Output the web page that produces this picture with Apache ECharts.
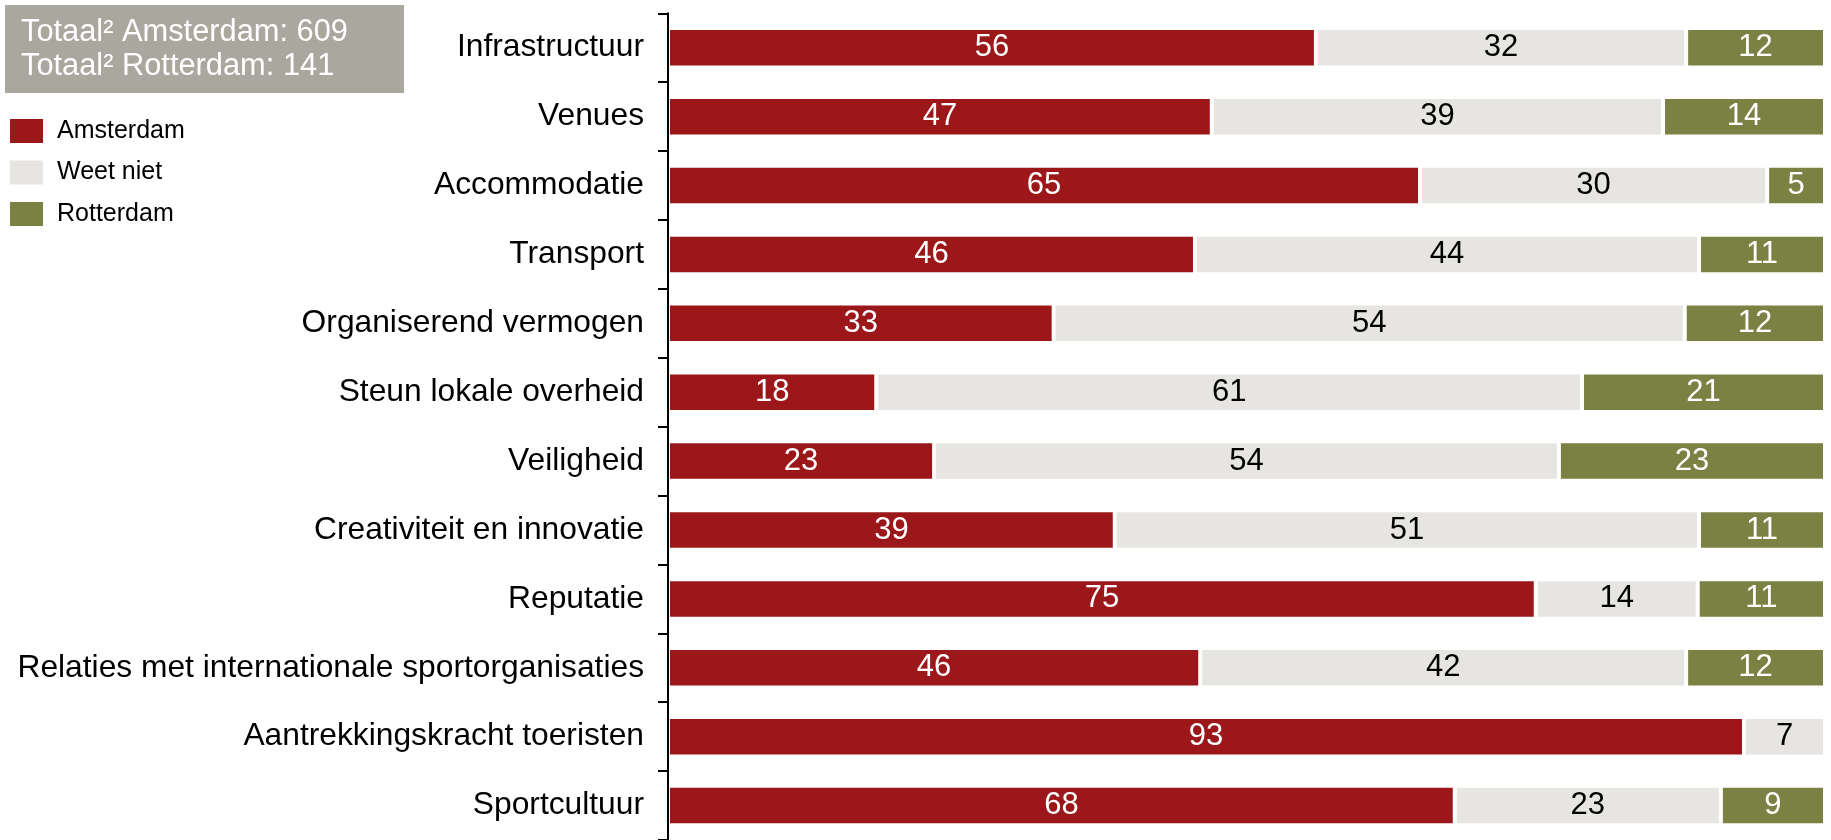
<!DOCTYPE html>
<html>
<head>
<meta charset="utf-8">
<script src="https://cdn.jsdelivr.net/npm/echarts@6/dist/echarts.min.js"></script>
<style>
html,body{margin:0;padding:0;background:#fff;}
#chart{width:1831px;height:840px;}
</style>
</head>
<body>
<div id="chart"></div>
<script>
var categories = ['Infrastructuur','Venues','Accommodatie','Transport','Organiserend vermogen','Steun lokale overheid','Veiligheid','Creativiteit en innovatie','Reputatie','Relaties met internationale sportorganisaties','Aantrekkingskracht toeristen','Sportcultuur'];
var amsterdam = [56,47,65,46,33,18,23,39,75,46,93,68];
var weetNiet  = [32,39,30,44,54,61,54,51,14,42,7,23];
var rotterdam = [12,14,5,11,12,21,23,11,11,12,null,9];
var seriesNames = ['Amsterdam','Weet niet','Rotterdam'];
var totals = ['Totaal\u00B2 Amsterdam: 609','Totaal\u00B2 Rotterdam: 141'];

var FONT = 'Liberation Sans, Arial, sans-serif';
var raw = [amsterdam, weetNiet, rotterdam];
var colors = ['#9B1719','#E6E5E1','#7A8142'];
var labelColors = ['#ffffff','#000000','#ffffff'];

// each row is a 100% bar: scale the rounded percentages to their row total
function rowSum(i){ var s=0; raw.forEach(function(a){ s += (a[i]||0); }); return s; }

var series = raw.map(function(arr, k){
  return {
    name: seriesNames[k],
    type: 'bar',
    stack: 'total',
    barWidth: 39.5,
    itemStyle: {color: colors[k], borderColor: '#ffffff', borderWidth: 2},
    label: {
      show: true,
      position: 'inside',
      color: labelColors[k],
      fontSize: 31,
      fontFamily: FONT,
      formatter: function(p){ return arr[p.dataIndex] == null ? '' : String(arr[p.dataIndex]); }
    },
    emphasis: {disabled: true},
    data: arr.map(function(v, i){ return v == null ? null : v / rowSum(i) * 100; })
  };
});

var chart = echarts.init(document.getElementById('chart'));
chart.setOption({
  animation: false,
  backgroundColor: '#ffffff',
  textStyle: {fontFamily: FONT},
  grid: {left: 668, right: 6, top: 13.3, height: 829, containLabel: false},
  xAxis: {type: 'value', min: 0, max: 100, show: false},
  yAxis: {
    type: 'category',
    inverse: true,
    data: categories,
    z: 10,
    axisLine: {show: true, lineStyle: {color: '#000', width: 2}},
    axisTick: {show: true, length: 10, lineStyle: {color: '#000', width: 2}},
    axisLabel: {fontSize: 31.75, color: '#000', margin: 24, fontFamily: FONT},
    splitLine: {show: false}
  },
  legend: {
    orient: 'vertical',
    left: 8,
    top: 117,
    padding: 0,
    itemWidth: 35,
    itemHeight: 26,
    itemGap: 13.5,
    icon: 'rect',
    selectedMode: false,
    data: seriesNames,
    textStyle: {fontSize: 25, color: '#000', fontFamily: FONT, padding: [0,0,0,8]}
  },
  graphic: [
    {type: 'rect', left: 5, top: 5, shape: {width: 399, height: 88}, style: {fill: '#AAA79F'}, z: 1},
    {type: 'text', x: 21, y: 49.5, z: 2,
      style: {text: totals.join('\n'), fill: '#ffffff', font: '30.8px ' + FONT, lineHeight: 33.3, verticalAlign: 'middle', align: 'left'}}
  ],
  series: series
});
</script>
</body>
</html>
